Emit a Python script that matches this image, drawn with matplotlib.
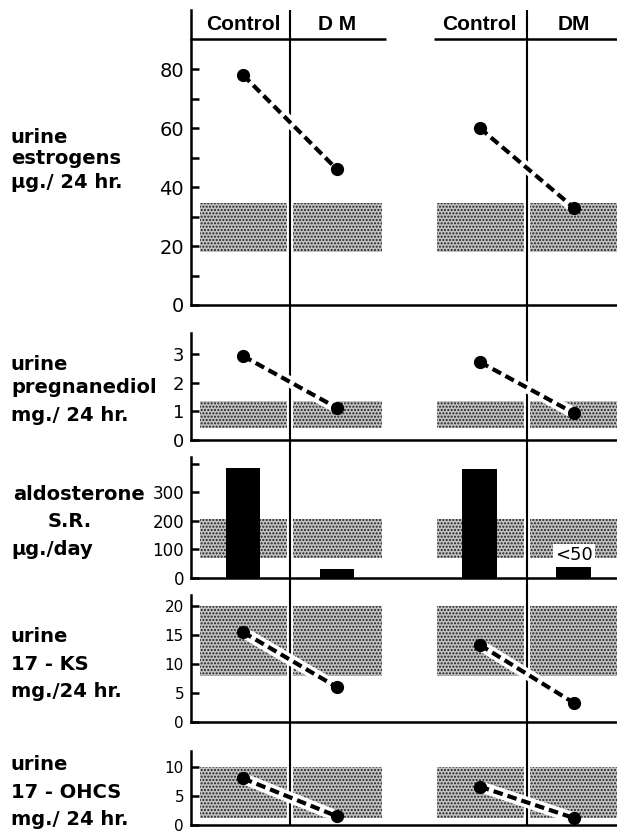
import matplotlib
matplotlib.use('Agg')
import matplotlib.pyplot as plt

# ---------------- data ----------------
conditions = ['Control', 'DM']
header_labels = [['Control', 'D M'], ['Control', 'DM']]

estrogens = [[78, 46], [60, 33]]
estrogens_normal = (18, 34.5)

pregnanediol = [[2.93, 1.12], [2.72, 0.94]]
pregnanediol_normal = (0.42, 1.35)

aldosterone = [[385, 32], [382, 39]]
aldosterone_normal = (70, 207)
aldosterone_notes = [['', ''], ['', '<50']]

ks17 = [[15.5, 6.0], [13.3, 3.3]]
ks17_normal = (8, 20)

ohcs17 = [[8.0, 1.5], [6.6, 1.2]]
ohcs17_normal = (1.2, 10)

labels_estrogens = ['urine', 'estrogens', 'µg./ 24 hr.']
labels_pregnanediol = ['urine', 'pregnanediol', 'mg./ 24 hr.']
labels_aldosterone = ['aldosterone', 'S.R.', 'µg./day']
labels_ks = ['urine', '17 - KS', 'mg./24 hr.']
labels_ohcs = ['urine', '17 - OHCS', 'mg./ 24 hr.']

# ---------------- layout ----------------
W, H = 617, 833
fig = plt.figure(figsize=(W / 100, H / 100), dpi=100)

def fx(px):
    return px / W

def fy(py):
    return 1 - py / H

LEFT_PX, RIGHT_PX = 191, 617
group_offsets = [0.0, 2.52]
XLIM = (-0.553, 3.98)
SPINE_LW = 1.8
DIV_LW = 1.5

def rect(top, bottom):
    return [fx(LEFT_PX), fy(bottom), fx(RIGHT_PX) - fx(LEFT_PX), (bottom - top) / H]

# overlay for the long divider lines
ov = fig.add_axes(rect(10, 825))
ov.set_xlim(*XLIM)
ov.set_ylim(0, 1)
ov.axis('off')
ov.set_zorder(0)
for g in group_offsets:
    ov.axvline(g + 0.5, color='black', lw=DIV_LW)

# header
hd = fig.add_axes(rect(10, 39))
hd.set_xlim(*XLIM)
hd.set_ylim(0, 1)
hd.set_facecolor('none')
for s in ['top', 'right', 'bottom']:
    hd.spines[s].set_visible(False)
hd.spines['left'].set_linewidth(SPINE_LW)
hd.set_xticks([])
hd.set_yticks([])
hd.set_zorder(1)
header_spans = [(XLIM[0], 1.52), (-0.49, 1.5)]
for gi, g in enumerate(group_offsets):
    a, b = header_spans[gi]
    hd.hlines(0, g + a if gi else a, min(g + b, XLIM[1]), color='black', lw=SPINE_LW, clip_on=False)
    for ci in range(2):
        hd.text(g + ci, 0.5, header_labels[gi][ci], ha='center', va='center',
                fontsize=15, fontweight='bold', family='Liberation Sans')

band_rel = (-0.46, 1.48)
gap = 0.032

def draw_band(ax, lo, hi):
    for g in group_offsets:
        for x0, x1 in [(g + band_rel[0], g + 0.5 - gap), (g + 0.5 + gap, g + band_rel[1])]:
            ax.fill_between([x0, x1], lo, hi, facecolor='#c2c2c2', edgecolor='#1e1e1e',
                            hatch='.....', linewidth=0, zorder=1)

def style_axes(ax, ymax, major, minor, tick_fs):
    ax.set_xlim(*XLIM)
    ax.set_ylim(0, ymax)
    ax.set_facecolor('none')
    ax.set_zorder(1)
    for s in ['top', 'right']:
        ax.spines[s].set_visible(False)
    for s in ['left', 'bottom']:
        ax.spines[s].set_linewidth(SPINE_LW)
    ax.set_xticks([])
    ax.set_yticks(major)
    ax.set_yticks(minor, minor=True)
    ax.set_yticklabels([str(v) for v in major], fontsize=tick_fs, family='DejaVu Sans')
    ax.tick_params(axis='y', which='both', direction='in', length=6, width=SPINE_LW, pad=5)

def draw_lines(ax, values):
    for g, vals in zip(group_offsets, values):
        xs = [g + 0, g + 1]
        ax.plot(xs, vals, color='white', lw=8, solid_capstyle='butt', zorder=3)
        ax.plot(xs, vals, color='black', lw=3, dashes=(2.3, 1.2), dash_capstyle='butt', zorder=4)
        ax.plot(xs, vals, 'o', color='black', ms=8.5, zorder=5)

def side_labels(lines, ys, xs=None, has=None):
    for i, (t, y) in enumerate(zip(lines, ys)):
        x = 11 if xs is None else xs[i]
        ha = 'left' if has is None else has[i]
        fig.text(fx(x), fy(y), t, ha=ha, va='baseline', fontsize=14,
                 fontweight='bold', family='DejaVu Sans')

# Panel 1: estrogens
ax1 = fig.add_axes(rect(39, 305))
style_axes(ax1, 90.2, [0, 20, 40, 60, 80], [10, 30, 50, 70], 14)
draw_band(ax1, *estrogens_normal)
draw_lines(ax1, estrogens)
side_labels(labels_estrogens, [143, 164, 188])

# Panel 2: pregnanediol
ax2 = fig.add_axes(rect(333, 440))
style_axes(ax2, 3.73, [0, 1, 2, 3], [], 13)
draw_band(ax2, *pregnanediol_normal)
draw_lines(ax2, pregnanediol)
side_labels(labels_pregnanediol, [370, 393, 421])

# Panel 3: aldosterone
ax3 = fig.add_axes(rect(457, 578))
style_axes(ax3, 424, [0, 100, 200, 300], [400], 12)
draw_band(ax3, *aldosterone_normal)
for g, vals, notes in zip(group_offsets, aldosterone, aldosterone_notes):
    ax3.bar([g + 0, g + 1], vals, width=0.37, color='black', zorder=3)
    for ci in range(2):
        if notes[ci]:
            ax3.text(g + ci, vals[ci] + 40, notes[ci], ha='center', va='center', fontsize=13,
                     family='DejaVu Sans', zorder=4,
                     bbox=dict(facecolor='white', edgecolor='none', pad=1.5))
side_labels(labels_aldosterone, [500, 527, 555], xs=[13, 70, 11], has=['left', 'center', 'left'])

# Panel 4: 17-KS
ax4 = fig.add_axes(rect(595, 722))
style_axes(ax4, 21.9, [0, 5, 10, 15, 20], [], 11)
draw_band(ax4, *ks17_normal)
draw_lines(ax4, ks17)
side_labels(labels_ks, [642, 670, 697])

# Panel 5: 17-OHCS
ax5 = fig.add_axes(rect(751, 825))
style_axes(ax5, 12.7, [0, 5, 10], [], 11)
draw_band(ax5, *ohcs17_normal)
draw_lines(ax5, ohcs17)
side_labels(labels_ohcs, [770, 798, 825])

fig.savefig('out.png', dpi=100)
